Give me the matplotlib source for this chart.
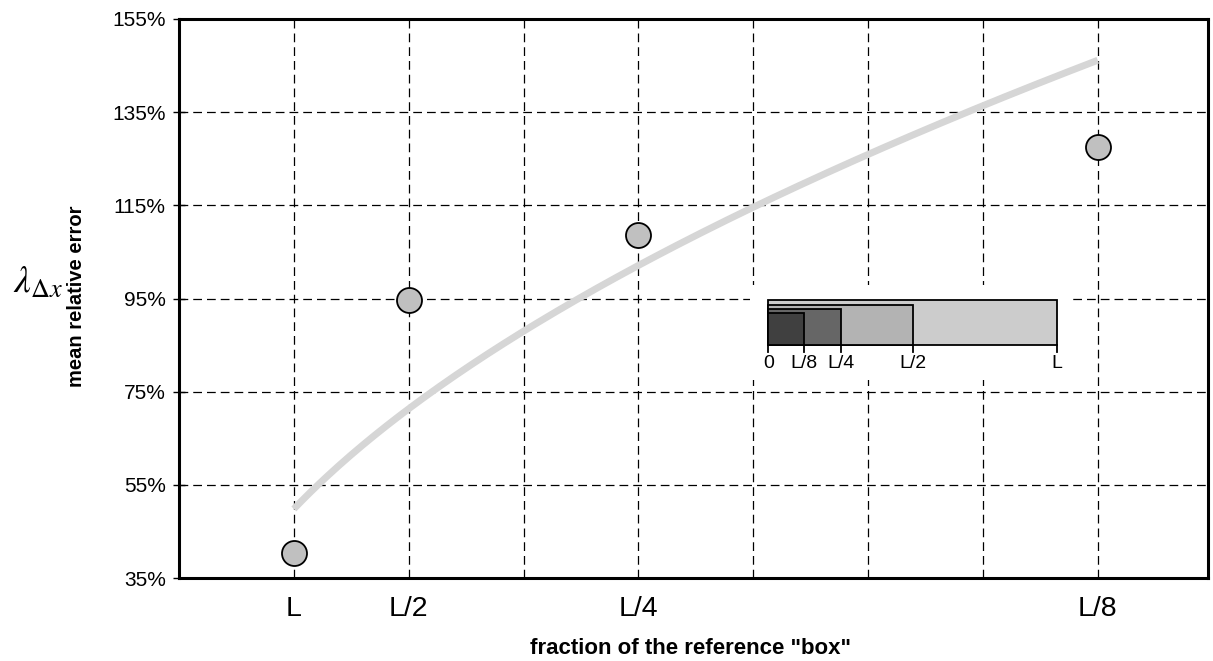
import numpy as np
import matplotlib
matplotlib.use("Agg")
import matplotlib.pyplot as plt
from matplotlib.patches import Rectangle

# ---- data ----
x_pos = [1, 2, 4, 8]
x_labels = ["L", "L/2", "L/4", "L/8"]
mean_rel_error = [40.4, 94.7, 108.6, 127.6]   # percent
y_ticks = [35, 55, 75, 95, 115, 135, 155]
inset_sizes = [1.0, 0.5, 0.25, 0.125]
inset_labels = ["0", "L/8", "L/4", "L/2", "L"]
inset_label_pos = [0, 0.125, 0.25, 0.5, 1.0]
inset_colors = ["#cccccc", "#b3b3b3", "#666666", "#404040"]

plt.rcParams['font.family'] = ['Liberation Sans', 'DejaVu Sans']
plt.rcParams['mathtext.fontset'] = 'stix'

W, H = 1213, 661
fig = plt.figure(figsize=(W / 100, H / 100), dpi=100)

def px_axes(l, t, r, b):
    return [l / W, 1 - b / H, (r - l) / W, (b - t) / H]

ax = fig.add_axes(px_axes(179, 19, 1208, 578))
ax.set_xlim(0, 8.96)
ax.set_ylim(35, 155)

# grid
for gx in range(1, 9):
    ax.axvline(gx, color='black', lw=0.9, ls=(0, (7, 4)), zorder=1)
for gy in y_ticks[1:-1]:
    ax.axhline(gy, color='black', lw=0.9, ls=(0, (7, 4)), zorder=1)

# power trendline fitted from the data
lx = np.log(x_pos)
ly = np.log(mean_rel_error)
b, a = np.polyfit(lx, ly, 1)
xs = np.linspace(1, 8, 200)
ax.plot(xs, np.exp(a) * xs ** b, color='#d6d6d6', lw=5, solid_capstyle='butt', zorder=2)

ax.plot(x_pos, mean_rel_error, 'o', ms=18, mfc='#c0c0c0', mec='black', mew=1.3, zorder=4, ls='none')

for s in ax.spines.values():
    s.set_linewidth(2.2)
    s.set_color('black')

ax.set_xticks(x_pos)
ax.set_xticklabels(x_labels, fontsize=20.5)
ax.tick_params(axis='x', length=0, pad=13)
ax.set_yticks(y_ticks)
ax.set_yticklabels([f"{v}%" for v in y_ticks], fontsize=15)
ax.tick_params(axis='y', direction='inout', length=9, width=1, pad=5)

fig.text(691 / W, 1 - 648 / H, 'fraction of the reference "box"', fontsize=16,
         fontweight='bold', ha='center', va='center')
fig.text(76 / W, 1 - 296 / H, "mean relative error", rotation=90, fontsize=14.5,
         fontweight='bold', ha='center', va='center')
fig.text(38 / W, 1 - 283 / H, r'$\lambda_{\Delta x}$', fontsize=27, ha='center', va='center')

# inset diagram
axi = fig.add_axes(px_axes(750, 285, 1070, 380), zorder=5)
axi.set_facecolor('white')
axi.set_xticks([]); axi.set_yticks([])
for s in axi.spines.values():
    s.set_visible(False)
axi.set_xlim(-18.3 / 289, 1 + 12.7 / 289)
axi.set_ylim(-34.7, 60.3)
heights = [45.3, 40.6, 36.0, 32.0]
for size, h, c in zip(inset_sizes, heights, inset_colors):
    axi.add_patch(Rectangle((0, 0), size, h, facecolor=c, edgecolor='black', lw=1.3))
for p, lab in zip(inset_label_pos, inset_labels):
    axi.plot([p, p], [0, -6.5], color='black', lw=1.3)
    axi.text(p, -18, lab, ha='center', va='center', fontsize=14)

fig.savefig("out.png", dpi=100)
